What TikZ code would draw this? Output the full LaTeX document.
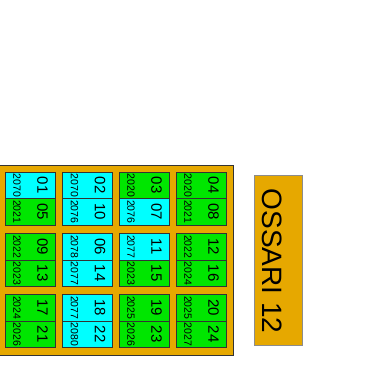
\documentclass[tikz,border=0pt]{standalone}
\usepackage{fontspec}
\setmainfont{Liberation Sans}
\definecolor{ossorange}{RGB}{230,168,0}
\definecolor{ossgreen}{RGB}{0,230,0}
\definecolor{osscyan}{RGB}{0,255,255}
\tikzset{
  panel/.style={draw=black!80, fill=ossorange, inner sep=0pt},
  cyancell/.style={draw=black!80, fill=osscyan, minimum width=50pt, minimum height=26.5pt, inner sep=0pt},
  greencell/.style={draw=black!80, fill=ossgreen, minimum width=50pt, minimum height=26.5pt, inner sep=0pt},
  bignum/.style={rotate=-90, inner sep=0pt, font=\fontsize{15}{15}\selectfont},
  smallyear/.style={rotate=-90, inner sep=0pt, font=\fontsize{10.5}{10.5}\selectfont},
  signbox/.style={draw=black!45, fill=ossorange, minimum width=48pt, minimum height=170pt, inner sep=0pt},
  signtext/.style={rotate=-90, inner sep=0pt, font=\fontsize{28}{28}\selectfont}
}
% one half of a niche: number, x, y, style, year
\newcommand{\niche}[5]{%
  \node[#4] (n#1) at (#2,#3) {};
  \node[bignum] (n#1num) at ([xshift=12.5pt]n#1.center) {#1};
  \node[smallyear] (n#1yr) at ([xshift=-13pt]n#1.center) {#5};
}
\begin{document}
\begin{tikzpicture}[x=1pt,y=1pt]
  \useasboundingbox (0,0) rectangle (380,374);
  \fill[white] (0,0) rectangle (380,374);
  \node[panel, minimum width=238pt, minimum height=190pt] (wall) at (114,114) {};
  % row 1
  \niche{01}{30}{188.75}{cyancell}{2070}
  \niche{05}{30}{162.25}{greencell}{2021}
  \niche{02}{87.5}{188.75}{cyancell}{2070}
  \niche{10}{87.5}{162.25}{cyancell}{2076}
  \niche{03}{144}{188.75}{greencell}{2020}
  \niche{07}{144}{162.25}{cyancell}{2076}
  \niche{04}{201}{188.75}{greencell}{2020}
  \niche{08}{201}{162.25}{greencell}{2021}
  % row 2
  \niche{09}{30}{127.25}{greencell}{2022}
  \niche{13}{30}{100.75}{greencell}{2023}
  \niche{06}{87.5}{127.25}{cyancell}{2078}
  \niche{14}{87.5}{100.75}{cyancell}{2077}
  \niche{11}{144}{127.25}{cyancell}{2077}
  \niche{15}{144}{100.75}{greencell}{2023}
  \niche{12}{201}{127.25}{greencell}{2022}
  \niche{16}{201}{100.75}{greencell}{2024}
  % row 3
  \niche{17}{30}{66.25}{greencell}{2024}
  \niche{21}{30}{39.75}{greencell}{2026}
  \niche{18}{87.5}{66.25}{cyancell}{2077}
  \niche{22}{87.5}{39.75}{cyancell}{2080}
  \niche{19}{144}{66.25}{greencell}{2025}
  \niche{23}{144}{39.75}{greencell}{2026}
  \niche{20}{201}{66.25}{greencell}{2025}
  \niche{24}{201}{39.75}{greencell}{2027}
  % sign
  \node[signbox] (sign) at (278,114) {};
  \node[signtext] (signlabel) at ([xshift=-5.5pt,yshift=-1pt]sign.center) {OSSARI 12};
\end{tikzpicture}
\end{document}
